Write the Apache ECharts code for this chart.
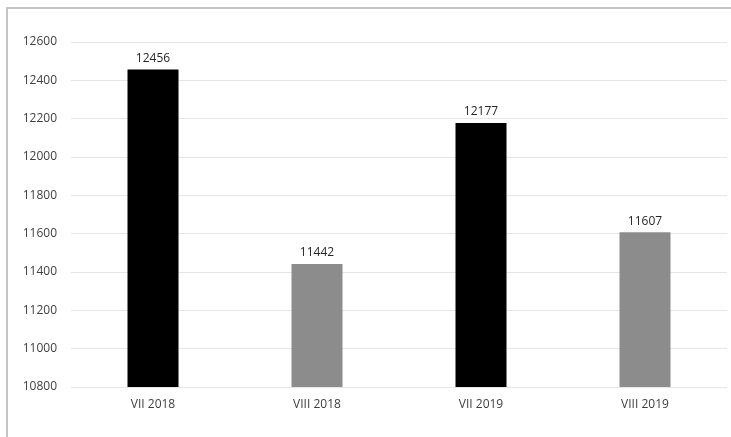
<!DOCTYPE html>
<html>
<head>
<meta charset="utf-8">
<script src="https://cdn.jsdelivr.net/npm/echarts@6/dist/echarts.min.js"></script>
<style>
  body { margin: 0; background: #fff; }
  .frame {
    position: absolute; left: 6px; top: 7px;
    width: 760px; height: 460px;
    border-left: 2px solid #c4c4c4; border-top: 2px solid #c4c4c4;
  }
  #chart { position: absolute; left: 0; top: 0; width: 731px; height: 437px; }
</style>
</head>
<body>
<div class="frame"></div>
<div id="chart"></div>
<script>
  // months
  const categories = ['VII 2018', 'VIII 2018', 'VII 2019', 'VIII 2019']
  const values = [12456, 11442, 12177, 11607]
  const barColors = ['#000000', '#8c8c8c', '#000000', '#8c8c8c']

  let chart = echarts.init(document.getElementById('chart'))
  let options = {
    animation: false,
    textStyle: { fontFamily: 'Open Sans', color: '#404040' },
    grid: {
      left: 71,
      right: 4,
      top: 42,
      bottom: 50
    },
    xAxis: {
      type: 'category',
      data: categories,
      axisTick: { show: false },
      axisLine: { show: false },
      axisLabel: { color: '#404040', fontSize: 12, margin: 12 }
    },
    yAxis: {
      type: 'value',
      min: 10800,
      max: 12600,
      interval: 200,
      axisLine: { show: false },
      axisTick: { show: false },
      axisLabel: {
        color: '#404040',
        fontSize: 12,
        margin: 14,
        formatter: v => String(v)
      },
      splitLine: { lineStyle: { color: '#e6e6e6', width: 1 } }
    },
    series: [{
      type: 'bar',
      barWidth: 51,
      data: values.map((v, i) => ({ value: v, itemStyle: { color: barColors[i] } })),
      label: {
        show: true,
        position: 'top',
        distance: 5,
        color: '#262626',
        fontSize: 12
      }
    }]
  }
  chart.setOption(options, true)
</script>
</body>
</html>
